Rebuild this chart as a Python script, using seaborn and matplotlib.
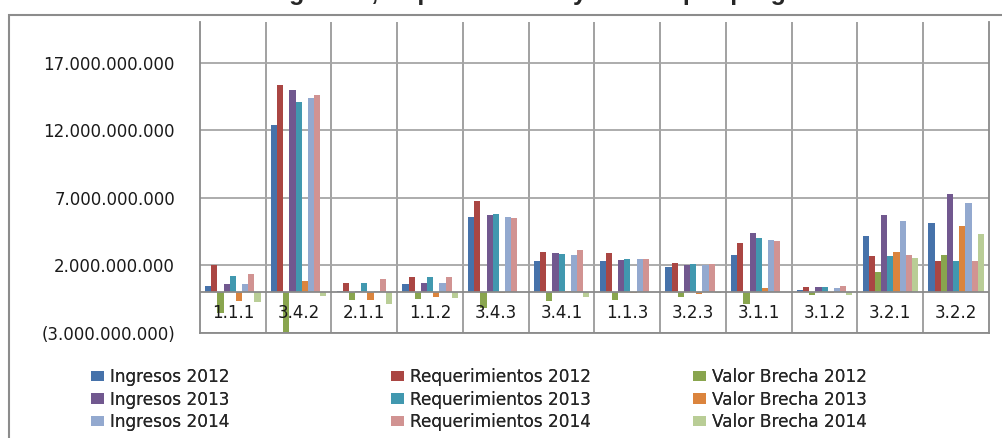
import matplotlib
matplotlib.use("Agg")
import matplotlib.pyplot as plt
import matplotlib.patches as mpatches
from matplotlib.ticker import FuncFormatter, FixedLocator
import seaborn as sns
import pandas as pd

# ---------------- data (values in units of 1e9) ----------------
categories = ["1.1.1", "3.4.2", "2.1.1", "1.1.2", "3.4.3", "3.4.1",
              "1.1.3", "3.2.3", "3.1.1", "3.1.2", "3.2.1", "3.2.2"]

series_names = ["Ingresos 2012", "Requerimientos 2012", "Valor Brecha 2012",
                "Ingresos 2013", "Requerimientos 2013", "Valor Brecha 2013",
                "Ingresos 2014", "Requerimientos 2014", "Valor Brecha 2014"]

ingresos_2012        = [0.50, 12.40, 0.10, 0.62, 5.56, 2.32, 2.30, 1.85, 2.74, 0.20, 4.20, 5.11]
requerimientos_2012  = [2.02, 15.36, 0.67, 1.11, 6.74, 2.99, 2.91, 2.20, 3.63, 0.37, 2.69, 2.30]
valor_brecha_2012    = [-1.50, -2.96, -0.56, -0.47, -1.17, -0.65, -0.58, -0.35, -0.88, -0.20, 1.51, 2.79]
ingresos_2013        = [0.60, 14.96, 0.10, 0.72, 5.73, 2.89, 2.42, 2.00, 4.37, 0.37, 5.70, 7.26]
requerimientos_2013  = [1.20, 14.12, 0.67, 1.11, 5.80, 2.81, 2.49, 2.12, 4.02, 0.42, 2.69, 2.30]
valor_brecha_2013    = [-0.62, 0.86, -0.55, -0.35, -0.07, 0.08, -0.07, -0.12, 0.30, -0.07, 2.96, 4.94]
ingresos_2014        = [0.60, 14.35, 0.10, 0.72, 5.56, 2.77, 2.49, 2.00, 3.85, 0.30, 5.31, 6.59]
requerimientos_2014  = [1.33, 14.62, 0.99, 1.11, 5.50, 3.16, 2.49, 2.07, 3.80, 0.47, 2.74, 2.30]
valor_brecha_2014    = [-0.72, -0.27, -0.89, -0.40, 0.06, -0.36, 0.02, -0.05, 0.05, -0.20, 2.52, 4.30]

y_ticks = [-3e9, 2e9, 7e9, 12e9, 17e9]
title_text = "Ingresos, requerimientos y brecha por programa"

colors = ["#4672AA", "#AA4643", "#89A54E",
          "#71588F", "#4198AF", "#DB843D",
          "#93A9CF", "#D19392", "#B9CD96"]

all_series = [ingresos_2012, requerimientos_2012, valor_brecha_2012,
              ingresos_2013, requerimientos_2013, valor_brecha_2013,
              ingresos_2014, requerimientos_2014, valor_brecha_2014]

rows = []
for name, vals in zip(series_names, all_series):
    for cat, v in zip(categories, vals):
        rows.append({"Programa": cat, "Serie": name, "Valor": v * 1e9})
df = pd.DataFrame(rows)

# ---------------- figure ----------------
sns.set_style("white")
plt.rcParams["font.family"] = ["DejaVu Sans"]

W, H = 1003, 438
fig = plt.figure(figsize=(W / 100, H / 100), dpi=100)
fig.patch.set_facecolor("white")

# outer chart frame
frame = mpatches.Rectangle((9 / W, -0.1), 1.2, (H - 15) / H + 0.1,
                           transform=fig.transFigure, fill=False,
                           edgecolor="#8C8C8C", linewidth=1.5, zorder=0)
fig.patches.append(frame)

# title: in the reference only its lowest part shows at the top edge
fig.text(0.555, 1.0, title_text, ha="center", va="baseline",
         fontsize=18, fontweight="bold", family=["Liberation Sans", "DejaVu Sans"])

left, right, top, bottom = 200, 989, 22, 333
ax = fig.add_axes([left / W, (H - bottom) / H, (right - left) / W, (bottom - top) / H])

sns.barplot(data=df, x="Programa", y="Valor", hue="Serie",
            order=categories, hue_order=series_names, palette=colors,
            saturation=1, width=0.845, linewidth=0, errorbar=None,
            ax=ax, zorder=3)

ax.set_xlim(-0.5, len(categories) - 0.5)
ax.set_ylim(-3e9, 20e9)

# gridlines
grid_col = "#A6A6A6"
ax.yaxis.set_major_locator(FixedLocator(y_ticks))
ax.yaxis.set_major_formatter(FuncFormatter(
    lambda v, p: (f"({abs(v):,.0f})" if v < 0 else f"{v:,.0f}").replace(",", ".")))
ax.grid(axis="y", which="major", color=grid_col, linewidth=1.3, zorder=0)
ax.set_xticks([i + 0.5 for i in range(len(categories) - 1)], minor=True)
ax.grid(axis="x", which="minor", color="#9A9A9A", linewidth=1.3, zorder=0)
ax.set_axisbelow(True)
ax.axhline(0, color="#8A8A8A", linewidth=1.3, zorder=4)

ax.set_xticks(range(len(categories)))
ax.set_xticklabels([])
ax.tick_params(axis="x", which="both", length=0)
ax.tick_params(axis="y", which="major", length=7, width=1.2, color="#8A8A8A",
               direction="out", labelsize=12, labelcolor="#1A1A1A", pad=11)
ax.set_xlabel("")
ax.set_ylabel("")

for side in ["left", "right", "bottom"]:
    ax.spines[side].set_color("#8A8A8A")
    ax.spines[side].set_linewidth(1.3)
ax.spines["top"].set_visible(False)

# category labels just below the zero line
for i, c in enumerate(categories):
    ax.text(i, -1.55e9, c, ha="center", va="center", fontsize=12,
            color="#1A1A1A", zorder=5)

# legend: three columns of three rows
handles, labels = ax.get_legend_handles_labels()
ax.get_legend().remove()
hmap = dict(zip(labels, handles))
col_x = [91 / W, 391 / W, 693 / W]
for ci in range(3):
    names = [series_names[ci], series_names[ci + 3], series_names[ci + 6]]
    leg = fig.legend([hmap[n] for n in names], names, loc="upper left",
                     bbox_to_anchor=(col_x[ci], (H - 368) / H), frameon=False,
                     handlelength=0.75, handleheight=0.55, handletextpad=0.35,
                     labelspacing=0.27, borderaxespad=0, borderpad=0,
                     prop={"family": "DejaVu Sans", "size": 12.2})
    for t in leg.get_texts():
        t.set_color("#262626")
    fig.add_artist(leg)

fig.savefig("out.png", dpi=100, facecolor="white")
